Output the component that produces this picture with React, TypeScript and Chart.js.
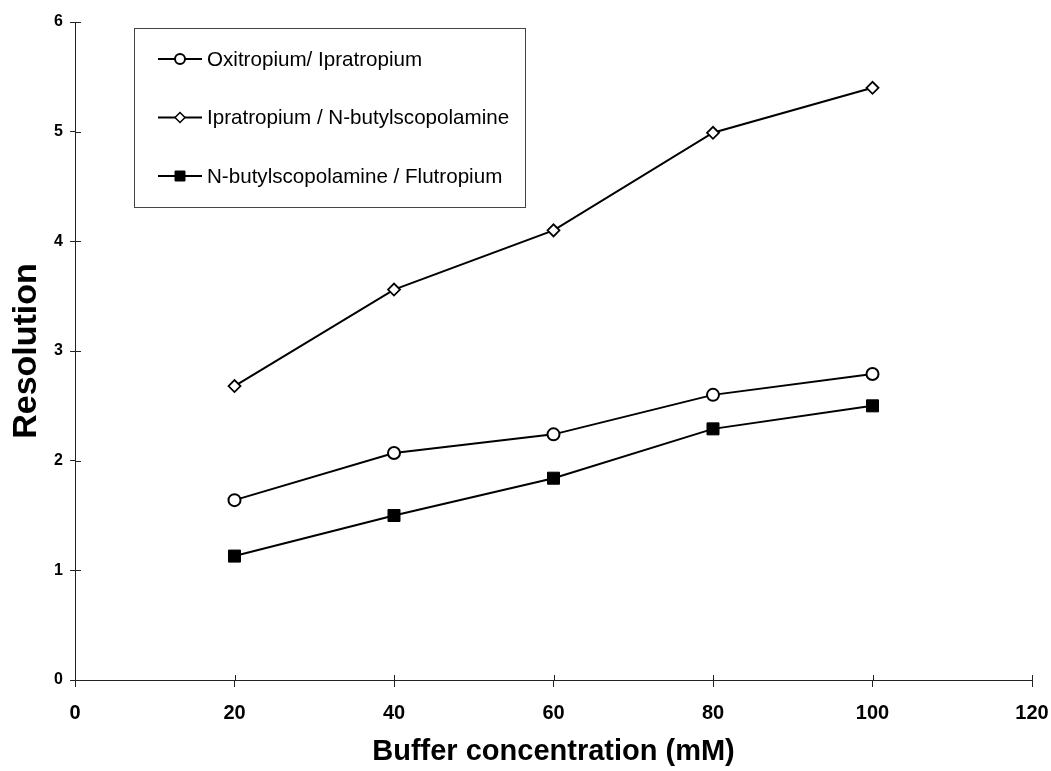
import React, { useEffect, useRef } from "react";
import { Chart, registerables } from "chart.js";

Chart.register(...registerables);

const concentrations = [20, 40, 60, 80, 100];
const oxiIpra = [1.64, 2.07, 2.24, 2.6, 2.79];
const ipraButyl = [2.68, 3.56, 4.1, 4.99, 5.4];
const butylFlu = [1.13, 1.5, 1.84, 2.29, 2.5];
const seriesNames = [
  "Oxitropium/ Ipratropium",
  "Ipratropium / N-butylscopolamine",
  "N-butylscopolamine / Flutropium",
];
const xTitle = "Buffer concentration (mM)";
const yTitle = "Resolution";

const FONT = "'Liberation Sans', Arial, sans-serif";

const innerTicks = {
  id: "innerTicks",
  afterDraw(chart: any) {
    const ctx = chart.ctx;
    const xs = chart.scales.x;
    const ys = chart.scales.y;
    const area = chart.chartArea;
    ctx.save();
    ctx.strokeStyle = "#222";
    ctx.lineWidth = 1;
    ctx.beginPath();
    ys.ticks.forEach((t: any) => {
      const py = Math.round(ys.getPixelForValue(t.value)) + 0.5;
      ctx.moveTo(area.left, py);
      ctx.lineTo(area.left + 6, py);
    });
    xs.ticks.forEach((t: any) => {
      const px = Math.round(xs.getPixelForValue(t.value)) + 0.5;
      ctx.moveTo(px, area.bottom);
      ctx.lineTo(px, area.bottom - 5);
    });
    ctx.stroke();
    ctx.restore();
  },
};

function drawMarker(ctx: any, style: string, x: number, y: number, r: number, fill: string, bw: number) {
  ctx.beginPath();
  if (style === "circle") {
    ctx.arc(x, y, r, 0, Math.PI * 2);
  } else if (style === "rectRot") {
    ctx.moveTo(x - r, y);
    ctx.lineTo(x, y - r);
    ctx.lineTo(x + r, y);
    ctx.lineTo(x, y + r);
    ctx.closePath();
  } else {
    ctx.rect(x - r, y - r, 2 * r, 2 * r);
  }
  ctx.fillStyle = fill;
  ctx.fill();
  ctx.lineWidth = bw;
  ctx.strokeStyle = "#000";
  ctx.stroke();
}

const boxLegend = {
  id: "boxLegend",
  afterDraw(chart: any) {
    const ctx = chart.ctx;
    ctx.save();
    ctx.strokeStyle = "#444";
    ctx.lineWidth = 1;
    ctx.strokeRect(134.5, 28.5, 391, 179);
    const styles = [
      { s: "circle", r: 5, f: "#fff", bw: 2 },
      { s: "rectRot", r: 5, f: "#fff", bw: 1.5 },
      { s: "rect", r: 5, f: "#000", bw: 1 },
    ];
    chart.data.datasets.forEach((ds: any, i: number) => {
      const y = 59 + i * 58.5;
      ctx.strokeStyle = "#000";
      ctx.lineWidth = 2;
      ctx.beginPath();
      ctx.moveTo(158, y);
      ctx.lineTo(202, y);
      ctx.stroke();
      const st = styles[i];
      drawMarker(ctx, st.s, 180, y, st.r, st.f, st.bw);
      ctx.fillStyle = "#000";
      ctx.font = `20.6px ${FONT}`;
      ctx.textBaseline = "middle";
      ctx.textAlign = "left";
      ctx.fillText(ds.label, 207, y + 1);
    });
    ctx.restore();
  },
};

export default function App() {
  const ref = useRef<HTMLCanvasElement | null>(null);
  useEffect(() => {
    if (!ref.current) return;
    const mk = (vals: number[]) => concentrations.map((x, i) => ({ x, y: vals[i] }));
    const chart = new Chart(ref.current, {
      type: "line",
      data: {
        datasets: [
          {
            label: seriesNames[0],
            data: mk(oxiIpra),
            borderColor: "#000",
            borderWidth: 2,
            pointStyle: "circle",
            pointRadius: 6,
            pointBackgroundColor: "#fff",
            pointBorderColor: "#000",
            pointBorderWidth: 2,
          },
          {
            label: seriesNames[1],
            data: mk(ipraButyl),
            borderColor: "#000",
            borderWidth: 2,
            pointStyle: "rectRot",
            pointRadius: 6,
            pointBackgroundColor: "#fff",
            pointBorderColor: "#000",
            pointBorderWidth: 1.8,
          },
          {
            label: seriesNames[2],
            data: mk(butylFlu),
            borderColor: "#000",
            borderWidth: 2,
            pointStyle: "rect",
            pointRadius: 8.5,
            pointBackgroundColor: "#000",
            pointBorderColor: "#000",
            pointBorderWidth: 1,
          },
        ],
      },
      options: {
        responsive: false,
        animation: false,
        layout: { padding: { top: 22, right: 19, bottom: 0, left: 0 } },
        plugins: { legend: { display: false }, tooltip: { enabled: false } },
        scales: {
          x: {
            type: "linear",
            min: 0,
            max: 120,
            ticks: {
              stepSize: 20,
              color: "#000",
              padding: 14,
              font: { family: FONT, size: 20, weight: "bold" },
            },
            grid: {
              display: true,
              drawOnChartArea: false,
              drawTicks: true,
              tickLength: 7,
              tickColor: "#222",
              color: "#222",
            },
            border: { display: true, color: "#222", width: 1 },
            title: {
              display: true,
              text: xTitle,
              color: "#000",
              font: { family: FONT, size: 29, weight: "bold" },
              padding: { top: 0, bottom: 2 },
            },
            afterFit: (s: any) => {
              s.height = 91;
              s.paddingLeft = 0;
              s.paddingRight = 0;
            },
          },
          y: {
            type: "linear",
            min: 0,
            max: 6,
            ticks: {
              stepSize: 1,
              color: "#000",
              padding: 7,
              font: { family: FONT, size: 16, weight: "bold" },
            },
            grid: {
              display: true,
              drawOnChartArea: false,
              drawTicks: true,
              tickLength: 5,
              tickColor: "#222",
              color: "#222",
            },
            border: { display: true, color: "#222", width: 1 },
            title: {
              display: true,
              text: yTitle,
              color: "#000",
              font: { family: FONT, size: 34, weight: "bold" },
              padding: { top: 6, bottom: 0 },
            },
            afterFit: (s: any) => {
              s.width = 75;
              s.paddingTop = 0;
              s.paddingBottom = 0;
            },
          },
        },
      },
      plugins: [innerTicks, boxLegend],
    } as any);
    return () => chart.destroy();
  }, []);
  return (
    <div style={{ position: "absolute", left: 0, top: 0, width: 1051, height: 771, background: "#fff" }}>
      <canvas ref={ref} width={1051} height={771} />
    </div>
  );
}
